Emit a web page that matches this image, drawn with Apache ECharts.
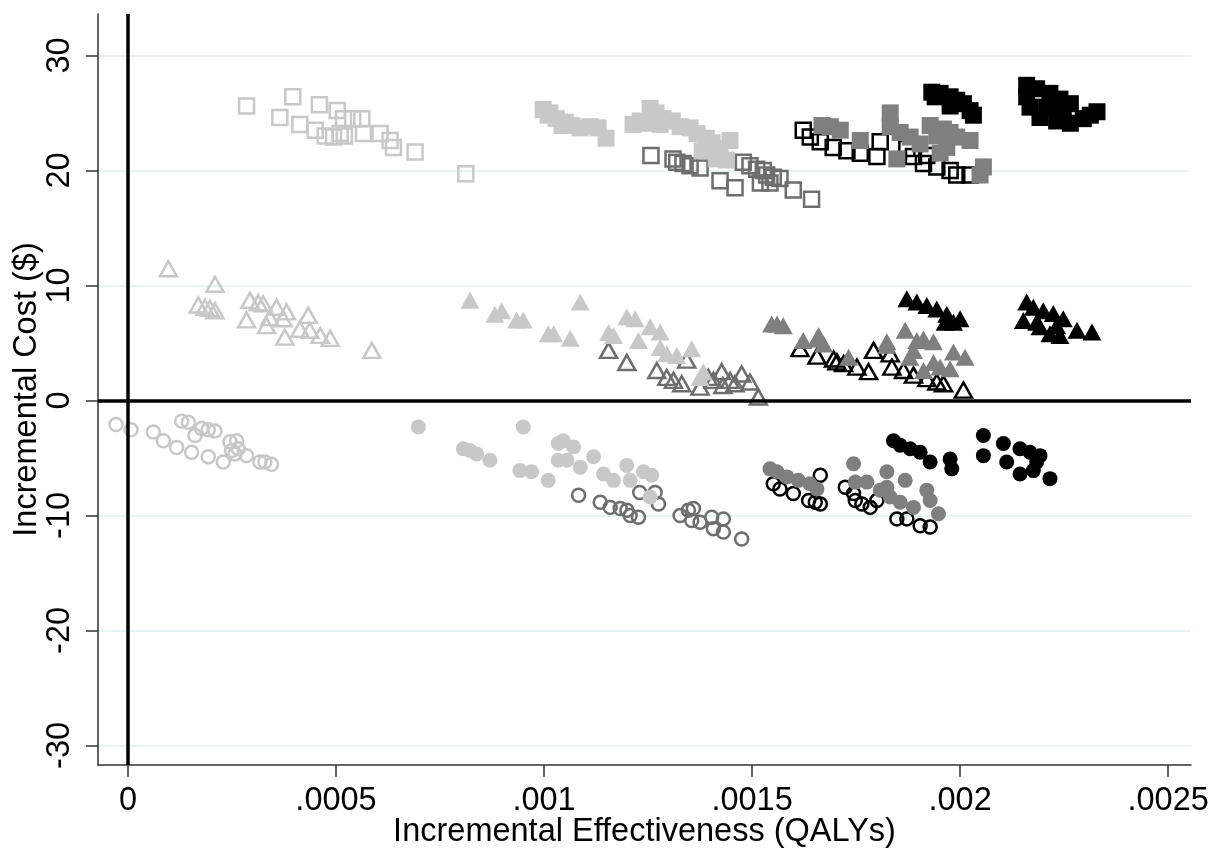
<!DOCTYPE html>
<html>
<head>
<meta charset="utf-8">
<title>Incremental cost-effectiveness plane</title>
<script src="https://cdn.jsdelivr.net/npm/echarts@6/dist/echarts.min.js"></script>
<style>
  html, body { margin: 0; padding: 0; background: #fff; }
  #chart { width: 1212px; height: 848px; }
</style>
</head>
<body>
<div id="chart"></div>
<script>
// tick values
var xTicks = [0, 0.0005, 0.001, 0.0015, 0.002, 0.0025];
var yTicks = [-30, -20, -10, 0, 10, 20, 30];

// squares
var sqLightHollow = [[0.000285,25.6],[0.000396,26.4],[0.000365,24.6],[0.000413,24.0],[0.00046,25.7],[0.00045,23.5],[0.000474,23.0],[0.000503,25.2],[0.000494,22.9],[0.000518,24.5],[0.00054,24.5],[0.000562,24.5],[0.000566,23.2],[0.000606,23.2],[0.00063,22.6],[0.000638,22.0],[0.00069,21.6],[0.000812,19.7],[0.00051,23.2],[0.00052,23.0]];
var sqLightFilled = [[0.000998,25.3],[0.001014,25.0],[0.001029,24.5],[0.001051,24.2],[0.001067,23.9],[0.001087,23.7],[0.001111,23.8],[0.00113,23.7],[0.001149,22.8],[0.00101,24.8],[0.001043,23.9],[0.001214,24.0],[0.001231,24.3],[0.001255,25.4],[0.001269,25.0],[0.001286,24.5],[0.001308,24.3],[0.001327,23.8],[0.001351,23.7],[0.001368,23.2],[0.00139,22.8],[0.001404,22.4],[0.001423,21.9],[0.001447,22.6],[0.00138,21.7],[0.001414,21.0],[0.001438,20.9],[0.001279,24.0],[0.001243,24.1]];
var sqGrayHollow = [[0.001257,21.3],[0.00131,21.0],[0.001319,20.7],[0.001334,20.6],[0.001351,20.4],[0.001375,20.2],[0.001423,19.1],[0.001459,18.5],[0.001479,20.7],[0.001495,20.4],[0.001511,20.1],[0.001527,20.0],[0.001535,19.6],[0.001551,19.4],[0.001567,19.3],[0.001599,18.3],[0.001643,17.5],[0.00152,18.9],[0.001543,18.9]];
var sqGrayFilled = [[0.001668,23.9],[0.001688,23.8],[0.001712,23.5],[0.00176,22.6],[0.001832,25.0],[0.001832,23.8],[0.001848,21.0],[0.00188,22.9],[0.001928,23.9],[0.001944,23.0],[0.00196,23.6],[0.001976,23.3],[0.001992,22.9],[0.002024,22.6],[0.001968,22.0],[0.001952,21.5],[0.002056,20.3],[0.002048,19.6],[0.001856,23.3],[0.001904,22.3]];
var sqBlackHollow = [[0.001623,23.5],[0.00164,22.9],[0.001664,22.5],[0.001695,22.0],[0.001728,21.7],[0.00176,21.5],[0.001808,22.5],[0.0018,21.2],[0.001872,21.9],[0.001888,21.2],[0.001912,20.6],[0.001944,20.3],[0.001976,20.0],[0.001992,19.6],[0.002024,19.6],[0.00192,21.3]];
var sqBlackFilled = [[0.001932,26.8],[0.001952,26.7],[0.001976,26.4],[0.001992,26.1],[0.002008,25.8],[0.001976,25.6],[0.002024,25.2],[0.002032,24.8],[0.00194,26.4],[0.00216,27.4],[0.002184,27.1],[0.002216,26.7],[0.00224,26.2],[0.002265,25.8],[0.002168,25.5],[0.002192,24.6],[0.002232,24.3],[0.002265,24.1],[0.002296,24.5],[0.002329,25.1],[0.002313,24.8],[0.002208,25.5],[0.002248,25.2],[0.00216,26.4]];

// triangles
var triLightHollow = [[0.0000969,11.45],[0.000209,10.1],[0.000169,8.3],[0.000185,8.1],[0.000197,8.0],[0.000209,7.8],[0.000293,8.7],[0.000313,8.5],[0.000325,8.4],[0.000357,8.1],[0.000381,7.7],[0.000285,7.0],[0.000333,6.5],[0.000341,7.2],[0.000373,7.1],[0.000377,5.5],[0.000433,7.4],[0.000413,6.2],[0.000437,6.1],[0.000462,5.65],[0.000486,5.4],[0.000586,4.35]];
var triLightFilled = [[0.000822,8.7],[0.000882,7.5],[0.000898,7.8],[0.000934,7.0],[0.00095,7.0],[0.00101,5.8],[0.001087,8.55],[0.001023,5.8],[0.001063,5.4],[0.001199,7.25],[0.001219,7.1],[0.001155,5.9],[0.001167,5.65],[0.001227,5.2],[0.001255,6.4],[0.001279,5.95],[0.001279,4.6],[0.001295,4.05],[0.001319,3.9],[0.001355,4.5],[0.001383,2.5],[0.001375,2.0]];
var triGrayHollow = [[0.001155,4.35],[0.001199,3.3],[0.001271,2.6],[0.001295,2.0],[0.001311,1.75],[0.001331,1.45],[0.001343,3.5],[0.001375,1.15],[0.001407,1.75],[0.001427,2.5],[0.001447,1.75],[0.001475,2.3],[0.001495,1.6],[0.001515,0.3],[0.001395,2.0],[0.001459,1.45],[0.00143,1.3]];
var triGrayFilled = [[0.00156,6.65],[0.001547,6.65],[0.001575,6.5],[0.001623,5.2],[0.001656,5.35],[0.001672,4.9],[0.001732,3.75],[0.001824,4.8],[0.00166,5.65],[0.001824,5.1],[0.001868,6.1],[0.001896,5.2],[0.001912,5.35],[0.001936,5.1],[0.001888,4.35],[0.001879,3.75],[0.001936,3.3],[0.001952,2.9],[0.001976,2.75],[0.001984,4.2],[0.002012,3.75],[0.001912,2.6]];
var triBlackHollow = [[0.001615,4.5],[0.001656,3.85],[0.001696,3.6],[0.001704,3.35],[0.00172,3.2],[0.001752,2.9],[0.00178,2.5],[0.001792,4.35],[0.001832,4.05],[0.001836,2.9],[0.001864,2.6],[0.001888,2.2],[0.00192,1.9],[0.001944,1.6],[0.00196,1.45],[0.002008,0.9]];
var triBlackFilled = [[0.001872,8.85],[0.001896,8.55],[0.00192,8.25],[0.001944,7.95],[0.001968,7.5],[0.002,7.1],[0.001964,6.8],[0.001984,6.8],[0.00216,8.55],[0.002176,8.1],[0.0022,7.8],[0.002224,7.55],[0.002248,7.1],[0.002152,6.95],[0.002192,6.4],[0.002216,5.8],[0.00224,5.65],[0.002281,6.1],[0.002317,5.95],[0.002184,6.8],[0.002232,6.5]];

// circles
var ciLightHollow = [[-0.0000288,-2.1],[0.0000072,-2.55],[0.0000609,-2.75],[0.0000849,-3.5],[0.000117,-4.1],[0.000129,-1.8],[0.000145,-1.9],[0.000153,-4.5],[0.000161,-3.05],[0.000177,-2.45],[0.000193,-2.55],[0.000209,-2.65],[0.000193,-4.9],[0.000229,-5.35],[0.000245,-3.6],[0.000261,-3.5],[0.000249,-4.35],[0.000265,-4.2],[0.000285,-4.8],[0.000317,-5.35],[0.000329,-5.35],[0.000345,-5.55],[0.000257,-4.65]];
var ciLightFilled = [[0.000698,-2.3],[0.000806,-4.2],[0.000822,-4.35],[0.000838,-4.65],[0.00087,-5.2],[0.00095,-2.3],[0.000942,-6.1],[0.00097,-6.2],[0.00101,-6.95],[0.001034,-3.75],[0.001034,-5.2],[0.001046,-3.5],[0.001071,-4.05],[0.001055,-5.2],[0.001087,-5.8],[0.001119,-4.9],[0.001143,-6.4],[0.001167,-6.95],[0.001199,-5.65],[0.001207,-6.95],[0.001239,-6.2],[0.001259,-6.5],[0.001255,-8.4]];
var ciGrayHollow = [[0.001083,-8.25],[0.001135,-8.85],[0.001159,-9.3],[0.001183,-9.4],[0.001199,-9.55],[0.001207,-10.0],[0.001227,-10.15],[0.00123,-8.0],[0.001267,-8.0],[0.001275,-9.0],[0.001327,-10.0],[0.001347,-9.55],[0.001359,-9.4],[0.001355,-10.45],[0.001375,-10.6],[0.001403,-10.15],[0.001431,-10.3],[0.001407,-11.15],[0.001431,-11.45],[0.001475,-12.05]];
var ciGrayFilled = [[0.001543,-5.95],[0.00156,-6.2],[0.001584,-6.65],[0.001611,-6.95],[0.001639,-7.25],[0.001656,-7.7],[0.001744,-5.5],[0.001748,-7.1],[0.001776,-7.1],[0.001824,-6.2],[0.001868,-6.95],[0.001808,-7.8],[0.001832,-8.4],[0.001856,-8.85],[0.001888,-9.3],[0.00192,-7.8],[0.001928,-8.7],[0.001948,-9.85],[0.001824,-7.55]];
var ciBlackHollow = [[0.001551,-7.25],[0.001567,-7.7],[0.001599,-8.1],[0.001636,-8.7],[0.001652,-8.85],[0.001664,-9.0],[0.001664,-6.5],[0.001724,-7.55],[0.001748,-8.7],[0.001764,-9.0],[0.001784,-9.3],[0.0018,-8.7],[0.001848,-10.3],[0.001872,-10.3],[0.001904,-10.9],[0.001928,-11.0],[0.001744,-8.1]];
var ciBlackFilled = [[0.00184,-3.5],[0.001856,-3.9],[0.00188,-4.2],[0.001904,-4.5],[0.001928,-5.35],[0.001976,-5.1],[0.00198,-5.95],[0.002056,-3.05],[0.002056,-4.8],[0.002104,-3.75],[0.002112,-5.35],[0.002144,-4.2],[0.002168,-4.5],[0.002192,-4.8],[0.002144,-6.4],[0.002176,-6.1],[0.002216,-6.8],[0.002184,-5.35]];

var LIGHT = '#c8c8c8', GRAY = '#7f7f7f', GRAY_LINE = '#6e6e6e', BLACK = '#000';
var FONT = 'Liberation Sans, Arial, sans-serif';

function hollow(data, symbol, size, color) {
  return {
    type: 'scatter', data: data, symbol: symbol, symbolSize: size,
    itemStyle: { color: 'rgba(255,255,255,0)', borderColor: color, borderWidth: 2.5, opacity: 1 }
  };
}
function filled(data, symbol, size, color) {
  return {
    type: 'scatter', data: data, symbol: symbol, symbolSize: size,
    itemStyle: { color: color, opacity: 1 }
  };
}

var SQ = 15, SQF = 17, TRI = [17, 15], TRIF = [19, 17], CI = 13, CIF = 15;

var chart = echarts.init(document.getElementById('chart'));
chart.setOption({
  animation: false,
  backgroundColor: '#fff',
  grid: { left: 98, right: 21, top: 14, bottom: 83, containLabel: false, outerBoundsMode: 'none' },
  xAxis: {
    type: 'value', min: -0.0000721, max: 0.002555,
    name: 'Incremental Effectiveness (QALYs)', nameLocation: 'middle', nameGap: 51, nameMoveOverlap: false,
    nameTextStyle: { fontFamily: FONT, fontSize: 32.5, color: '#000' },
    axisLine: { onZero: false, lineStyle: { color: '#333', width: 1.5 } },
    axisTick: { length: 12, customValues: xTicks, lineStyle: { color: '#333', width: 1.5 } },
    axisLabel: {
      customValues: xTicks, margin: 20, fontFamily: FONT, fontSize: 32.5, color: '#000',
      formatter: function (v) { return v === 0 ? '0' : String(v).replace(/^0/, ''); }
    },
    splitLine: { show: false }
  },
  yAxis: {
    type: 'value', min: -31.7, max: 33.6,
    name: 'Incremental Cost ($)', nameLocation: 'middle', nameGap: 54, nameMoveOverlap: false,
    nameTextStyle: { fontFamily: FONT, fontSize: 32.5, color: '#000' },
    axisLine: { onZero: false, lineStyle: { color: '#333', width: 1.5 } },
    axisTick: { length: 12, customValues: yTicks, lineStyle: { color: '#333', width: 1.5 } },
    axisLabel: {
      customValues: yTicks, rotate: 90, margin: 21, fontFamily: FONT, fontSize: 32.5, color: '#000'
    },
    splitLine: { show: true, lineStyle: { color: '#e4eef0', width: 1.5 } }
  },
  series: [
    {
      type: 'scatter', data: [], silent: true,
      markLine: {
        silent: true, symbol: 'none', label: { show: false },
        lineStyle: { color: '#000', width: 3.5, type: 'solid' },
        data: [{ xAxis: 0 }, { yAxis: 0 }]
      }
    },
    hollow(sqLightHollow, 'rect', SQ, LIGHT),
    hollow(sqGrayHollow, 'rect', SQ, GRAY_LINE),
    hollow(sqBlackHollow, 'rect', SQ, BLACK),
    hollow(triLightHollow, 'triangle', TRI, LIGHT),
    hollow(triGrayHollow, 'triangle', TRI, GRAY_LINE),
    hollow(triBlackHollow, 'triangle', TRI, BLACK),
    hollow(ciLightHollow, 'circle', CI, LIGHT),
    hollow(ciGrayHollow, 'circle', CI, GRAY_LINE),
    hollow(ciBlackHollow, 'circle', CI, BLACK),
    filled(sqLightFilled, 'rect', SQF, LIGHT),
    filled(sqGrayFilled, 'rect', SQF, GRAY),
    filled(sqBlackFilled, 'rect', SQF, BLACK),
    filled(triLightFilled, 'triangle', TRIF, LIGHT),
    filled(triGrayFilled, 'triangle', TRIF, GRAY),
    filled(triBlackFilled, 'triangle', TRIF, BLACK),
    filled(ciLightFilled, 'circle', CIF, LIGHT),
    filled(ciGrayFilled, 'circle', CIF, GRAY),
    filled(ciBlackFilled, 'circle', CIF, BLACK)
  ]
});
</script>
</body>
</html>
